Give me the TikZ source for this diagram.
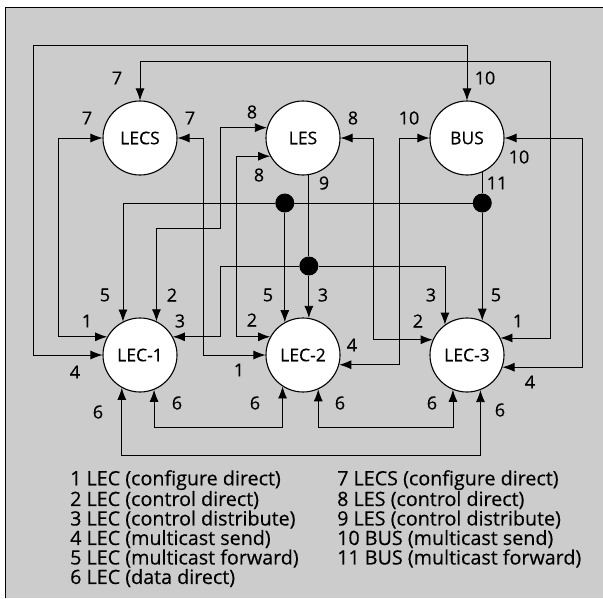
\documentclass[tikz,border=0pt]{standalone}
\usepackage{fontspec}
\usetikzlibrary{arrows.meta}
\newfontfamily\lblfont[FakeBold=0.35]{Open Sans}
\begin{document}
\begin{tikzpicture}[x=1pt,y=-1pt,
  station/.style={circle,draw,line width=1.1pt,fill=white,minimum size=74pt,inner sep=0pt,font=\lblfont\fontsize{17.5}{20}\selectfont},
  conn/.style={line width=0.8pt},
  both/.style={conn,{Latex[length=12pt,width=9pt]}-{Latex[length=12pt,width=9pt]}},
  tip/.style={conn,-{Latex[length=12pt,width=9pt]}},
  jdot/.style={circle,fill=black,minimum size=19pt,inner sep=0pt},
  num/.style={inner sep=0pt,font=\lblfont\fontsize{18}{20}\selectfont},
  legend/.style={inner sep=0pt,anchor=north west,align=left,font=\lblfont\fontsize{19.7}{19.5}\selectfont}]
\useasboundingbox (0,0) rectangle (603,598);
\fill[black!20] (5,7) rectangle (603,598);
\draw[line width=0.8pt] (5,598) -- (5,7) -- (603,7);
% stations
\node[station] (LECS) at (140,138) {LECS};
\node[station] (LES) at (303,138) {LES};
\node[station] (BUS) at (467,138) {BUS};
\node[station] (LEC1) at (140,355) {LEC-1};
\node[station] (LEC2) at (303,355) {LEC-2};
\node[station] (LEC3) at (467,355) {LEC-3};
% junctions
\node[jdot] (dB) at (BUS.294 |- 0,203) {};
\node[jdot] (dA) at (LEC2.119 |- 0,203) {};
\node[jdot] (dC) at (LES.279 |- 0,266) {};
% connectors
\draw[both] (LEC1.west) -| (33,45) -| (BUS.north);
\draw[both] (LECS.north) |- (550,61) |- (LEC3.27);
\draw[both] (LECS.west) -| (58,0 |- LEC1.151) -- (LEC1.151);
\draw[both] (LECS.east) -| (203,0 |- LEC2.west) -- (LEC2.west);
\draw[both] (LES.164) -| (220,228) -| (LEC1.64);
\draw[both] (LES.209) -| (236,0 |- LEC2.151) -- (LEC2.151);
\draw[both] (LES.east) -| (373,0 |- LEC3.156) -- (LEC3.156);
\draw[both] (BUS.west) -| (399,0 |- LEC2.-15) -- (LEC2.-15);
\draw[both] (BUS.east) -| (582,0 |- LEC3.-19) -- (LEC3.-19);
\draw[conn] (LES.279) -- (dC);
\draw[tip] (dC) -- (LEC2.81);
\draw[tip] (dC) -| (LEC3.126);
\draw[tip] (dC) -| (220,0 |- LEC1.29) -- (LEC1.29);
\draw[conn] (BUS.294) -- (dB);
\draw[conn] (dB) -- (dA);
\draw[tip] (dB) -- (LEC3.66);
\draw[tip] (dA) -- (LEC2.119);
\draw[tip] (dA) -| (LEC1.117);
\draw[both] (LEC1.292) |- (LEC2.237 |- 0,427) -- (LEC2.237);
\draw[both] (LEC2.294) |- (LEC3.248 |- 0,427) -- (LEC3.248);
\draw[both] (LEC1.241) |- (LEC3.291 |- 0,455) -- (LEC3.291);
% labels
\node[num] (n1) at (117,78) {7};
\node[num] (n2) at (87,118) {7};
\node[num] (n3) at (190,118) {7};
\node[num] (n4) at (252,112) {8};
\node[num] (n5) at (259,175) {8};
\node[num] (n6) at (353,118) {8};
\node[num] (n7) at (324,183) {9};
\node[num] (n8) at (485,78) {10};
\node[num] (n9) at (409,118) {10};
\node[num] (n10) at (519,157) {10};
\node[num] (n11) at (497,183) {11};
\node[num] (n12) at (105,295) {5};
\node[num] (n13) at (172,295) {2};
\node[num] (n14) at (87,321) {1};
\node[num] (n15) at (180,321) {3};
\node[num] (n16) at (75,372) {4};
\node[num] (n17) at (268,295) {5};
\node[num] (n18) at (323,295) {3};
\node[num] (n19) at (252,320) {2};
\node[num] (n20) at (239,370) {1};
\node[num] (n21) at (352,345) {4};
\node[num] (n22) at (431,295) {3};
\node[num] (n23) at (496,295) {5};
\node[num] (n24) at (418,321) {2};
\node[num] (n25) at (518,321) {1};
\node[num] (n26) at (530,382) {4};
\node[num] (n27) at (98,412) {6};
\node[num] (n28) at (177,403) {6};
\node[num] (n29) at (255,403) {6};
\node[num] (n30) at (340,403) {6};
\node[num] (n31) at (432,403) {6};
\node[num] (n32) at (500,410) {6};
% legend
\node[legend] (legL) at (70,470) {1 LEC (configure direct)\\2 LEC (control direct)\\3 LEC (control distribute)\\4 LEC (multicast send)\\5 LEC (multicast forward)\\6 LEC (data direct)};
\node[legend] (legR) at (337,470) {7 LECS (configure direct)\\8 LES (control direct)\\9 LES (control distribute)\\10 BUS (multicast send)\\11 BUS (multicast forward)};
\end{tikzpicture}
\end{document}
